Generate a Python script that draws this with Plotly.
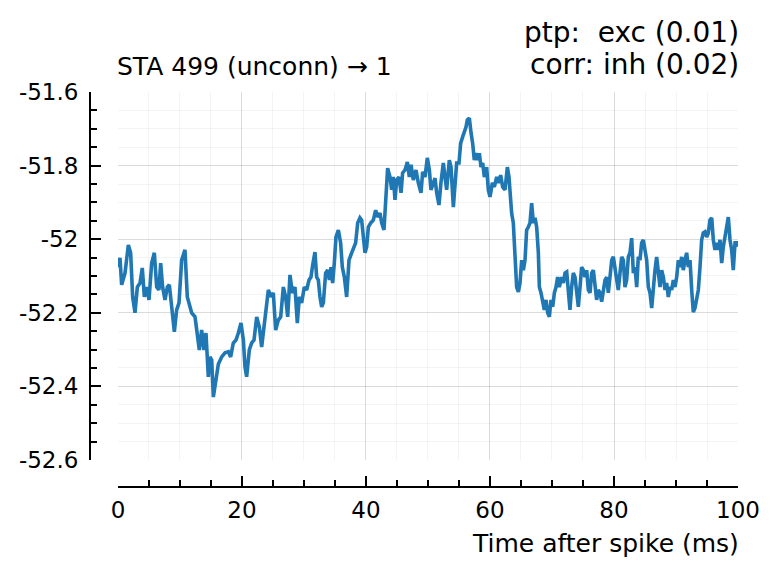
import plotly.graph_objects as go

# ---- data (time after spike in ms, membrane potential in mV) ----
t_seg1 = [0.0, 0.32, 0.59, 1.13, 1.67, 2.04, 2.37, 2.74, 3.12, 3.55,
          3.92, 4.25, 4.62, 5.0, 5.43, 5.86, 6.24, 6.61, 6.88, 7.2,
          7.58, 7.96, 8.28, 8.66, 9.09, 9.46, 9.84, 10.27, 10.8, 11.18,
          11.61, 11.88, 12.42, 12.8, 13.12, 13.49, 13.87, 14.19, 14.57, 14.84,
          15.11, 15.38, 15.8, 16.18]
v_seg1 = [-52.076, -52.051, -52.124, -52.092, -52.016, -52.037, -52.157, -52.2, -52.13, -52.119,
          -52.078, -52.157, -52.13, -52.165, -52.065, -52.037, -52.13, -52.138, -52.065, -52.13,
          -52.165, -52.13, -52.124, -52.184, -52.252, -52.192, -52.173, -52.057, -52.029, -52.157,
          -52.184, -52.2, -52.211, -52.255, -52.301, -52.247, -52.301, -52.255, -52.374, -52.32,
          -52.328, -52.429, -52.383, -52.34]

t_seg2 = [16.72, 17.26, 17.8, 18.17, 18.6, 19.03, 19.41, 19.84, 20.22, 20.48,
          20.75, 21.18, 21.56, 21.94, 22.37, 22.8, 23.17, 23.44, 23.87, 24.25,
          24.68, 25.05, 25.43, 25.86, 26.24, 26.67, 27.04, 27.37, 27.74, 28.12,
          28.55, 28.92, 29.25, 29.62, 30.05, 30.43, 30.81, 31.13, 31.4, 31.77]
v_seg2 = [-52.32, -52.309, -52.306, -52.32, -52.282, -52.274, -52.255, -52.228, -52.274, -52.347,
          -52.374, -52.301, -52.282, -52.274, -52.211, -52.239, -52.293, -52.255, -52.184, -52.138,
          -52.157, -52.146, -52.247, -52.22, -52.211, -52.13, -52.157, -52.211, -52.097, -52.146,
          -52.13, -52.228, -52.157, -52.173, -52.13, -52.138, -52.111, -52.103, -52.07, -52.035]

t_seg3 = [32.04, 32.31, 32.58, 32.85, 33.12, 33.49, 33.82, 34.09, 34.35, 34.62,
          34.89, 35.16, 35.54, 35.91, 36.18, 36.51, 36.88, 37.26, 37.69, 38.12,
          38.33, 38.66, 39.03, 39.3, 39.57, 39.84, 40.11, 40.38, 40.75, 41.18,
          41.56, 41.88, 42.26, 42.53, 42.9, 43.23, 43.49, 43.87, 44.14, 44.41,
          44.68, 44.95, 45.32, 45.65, 45.91, 46.29, 46.67, 46.99, 47.26, 47.63,
          48.06, 48.44]
v_seg3 = [-52.103, -52.111, -52.157, -52.184, -52.173, -52.092, -52.084, -52.111, -52.076, -52.119,
          -52.065, -51.994, -51.975, -52.01, -52.076, -52.103, -52.157, -52.057, -52.037, -52.021,
          -52.01, -51.956, -51.942, -51.948, -51.994, -52.037, -52.021, -51.967, -51.956, -51.948,
          -51.921, -51.94, -51.929, -51.956, -51.975, -51.874, -51.807, -51.831, -51.866, -51.831,
          -51.893, -51.839, -51.831, -51.874, -51.82, -51.812, -51.79, -51.831, -51.798, -51.839,
          -51.812, -51.847]

t_seg4 = [48.87, 49.14, 49.52, 49.89, 50.22, 50.48, 50.86, 51.13, 51.4, 51.77,
          52.1, 52.47, 52.74, 53.01, 53.44, 53.71, 54.09, 54.35, 54.62, 55.0,
          55.27, 55.59, 55.86, 56.13, 56.34, 56.67, 56.94, 57.2, 57.47, 57.74,
          58.01, 58.28, 58.55, 58.82, 59.09, 59.46, 59.73, 60.0, 60.38, 60.7,
          61.08, 61.34, 61.72, 62.05, 62.42, 62.8, 63.06, 63.23, 63.49, 63.76]
v_seg4 = [-51.874, -51.817, -51.831, -51.779, -51.812, -51.866, -51.845, -51.834, -51.874, -51.907,
          -51.845, -51.793, -51.831, -51.866, -51.785, -51.804, -51.913, -51.839, -51.793, -51.793,
          -51.739, -51.722, -51.711, -51.695, -51.676, -51.671, -51.711, -51.739, -51.785, -51.766,
          -51.785, -51.766, -51.804, -51.793, -51.831, -51.804, -51.866, -51.885, -51.847, -51.858,
          -51.831, -51.847, -51.826, -51.858, -51.866, -51.804, -51.831, -51.874, -51.929, -51.956]

t_seg5 = [64.03, 64.3, 64.57, 64.84, 65.11, 65.38, 65.65, 65.91, 66.18, 66.45,
          66.72, 66.99, 67.26, 67.53, 67.8, 67.96, 68.23, 68.49, 68.76, 69.03,
          69.3, 69.57, 69.84, 70.11, 70.38, 70.65, 70.91, 71.18, 71.56, 71.83,
          72.1, 72.37, 72.63, 72.9, 73.17, 73.44, 73.71, 73.98, 74.25, 74.52,
          74.78, 75.05, 75.32, 75.59, 75.86, 76.13, 76.4, 76.67, 76.94, 77.2,
          77.47, 77.74, 78.01, 78.27, 78.55, 78.82, 79.08, 79.35, 79.63, 79.89,
          80.32, 80.69]
v_seg5 = [-52.037, -52.13, -52.143, -52.119, -52.057, -52.084, -52.057, -51.975, -51.967, -51.956,
          -51.902, -51.956, -51.942, -51.967, -52.037, -52.13, -52.146, -52.173, -52.192, -52.165,
          -52.2, -52.211, -52.165, -52.184, -52.146, -52.13, -52.103, -52.13, -52.103, -52.119,
          -52.092, -52.089, -52.13, -52.192, -52.13, -52.092, -52.103, -52.157, -52.184, -52.13,
          -52.076, -52.084, -52.103, -52.084, -52.138, -52.146, -52.092, -52.084, -52.138, -52.165,
          -52.138, -52.146, -52.17, -52.138, -52.111, -52.103, -52.146, -52.103, -52.057, -52.048,
          -52.092, -52.138]

t_seg6 = [80.97, 81.24, 81.51, 81.77, 82.04, 82.31, 82.58, 82.85, 83.12, 83.39,
          83.66, 83.92, 84.19, 84.46, 84.73, 85.0, 85.27, 85.54, 85.81, 86.08,
          86.34, 86.61, 86.88, 87.15, 87.42, 87.69, 87.96, 88.23, 88.49, 88.76,
          89.03, 89.3, 89.57, 89.84, 90.11, 90.38, 90.65, 90.91, 91.18, 91.45,
          91.72, 91.99, 92.26, 92.53, 92.79, 93.06, 93.34, 93.6, 93.87, 94.14,
          94.4, 94.68, 94.95, 95.21, 95.48, 95.76, 96.02, 96.29, 96.56, 96.82,
          97.1, 97.37, 97.63, 97.9, 98.18, 98.44, 98.71, 98.98, 99.24, 99.52,
          99.79, 100.0]
v_seg6 = [-52.092, -52.048, -52.057, -52.13, -52.111, -52.048, -52.037, -51.997, -52.092, -52.076,
          -52.13, -52.048, -52.057, -52.01, -52.002, -52.037, -52.057, -52.13, -52.146, -52.187,
          -52.13, -52.084, -52.048, -52.092, -52.13, -52.084, -52.103, -52.138, -52.119, -52.157,
          -52.13, -52.138, -52.111, -52.13, -52.103, -52.057, -52.076, -52.048, -52.084, -52.057,
          -52.037, -52.076, -52.057, -52.138, -52.198, -52.187, -52.157, -52.138, -52.076, -52.002,
          -51.983, -51.98, -51.994, -51.983, -51.948, -51.942, -52.002, -52.029, -52.01, -52.029,
          -52.002, -52.065, -52.021, -51.994, -51.956, -51.94, -52.002, -52.029, -52.084, -52.01,
          -52.01, -52.02]

t_segments = [t_seg1, t_seg2, t_seg3, t_seg4, t_seg5, t_seg6]
v_segments = [v_seg1, v_seg2, v_seg3, v_seg4, v_seg5, v_seg6]
for a, b in zip(t_segments, v_segments):
    assert len(a) == len(b), (len(a), len(b))
t_ms = [x for s in t_segments for x in s]
vm = [y for s in v_segments for y in s]

x_ticks = [0, 20, 40, 60, 80, 100]
x_ticklabels = ["0", "20", "40", "60", "80", "100"]
y_ticks = [-52.6, -52.4, -52.2, -52.0, -51.8, -51.6]
y_ticklabels = ["-52.6", "-52.4", "-52.2", "-52", "-51.8", "-51.6"]

title_left = "STA 499 (unconn) \u2192 1"
title_right_1 = "ptp:\u00a0 exc (0.01)"
title_right_2 = "corr: inh (0.02)"
x_label = "Time after spike (ms)"

# ---- figure ----
FONT = "DejaVu Sans"
XDOM = [0.0432, 1.0]
YDOM = [0.0684, 1.0]
XR = [0, 100]
YR = [-52.6, -51.6]
GRID = "rgba(0,0,0,0.10)"
MINOR = "rgba(0,0,0,0.045)"

fig = go.Figure()
fig.add_trace(go.Scatter(x=t_ms, y=vm, mode="lines",
                         line=dict(color="#1f77b4", width=3.6),
                         showlegend=False, hoverinfo="skip"))
fig.add_trace(go.Scatter(x=[None], y=[None], xaxis="x2", yaxis="y2",
                         mode="lines", showlegend=False, hoverinfo="skip"))

fig.update_layout(
    width=771, height=568,
    margin=dict(l=82, r=41, t=84, b=89, pad=0),
    paper_bgcolor="white", plot_bgcolor="white",
    font=dict(family=FONT, color="black"),
    xaxis=dict(domain=XDOM, range=XR, tickvals=x_ticks, showticklabels=False,
               ticks="", showgrid=True, gridcolor=GRID, gridwidth=1,
               zeroline=False, showline=False,
               minor=dict(dtick=5, tick0=0, showgrid=True, gridcolor=MINOR, gridwidth=1)),
    yaxis=dict(domain=YDOM, range=YR, tickvals=y_ticks, showticklabels=False,
               ticks="", showgrid=True, gridcolor=GRID, gridwidth=1,
               zeroline=False, showline=False,
               minor=dict(dtick=0.05, tick0=-52.6, showgrid=True, gridcolor=MINOR, gridwidth=1)),
    xaxis2=dict(overlaying="x", anchor="free", position=0, domain=XDOM, range=XR,
                tickvals=x_ticks, ticktext=x_ticklabels, tickfont=dict(size=23),
                ticks="inside", ticklen=10, tickwidth=2, tickcolor="black",
                showline=True, linecolor="black", linewidth=2,
                showgrid=False, zeroline=False, ticklabelstandoff=2,
                minor=dict(dtick=5, tick0=0, ticks="inside", ticklen=6,
                           tickwidth=1.5, tickcolor="black", showgrid=False)),
    yaxis2=dict(overlaying="y", anchor="free", position=0, domain=YDOM, range=YR,
                tickvals=y_ticks, ticktext=y_ticklabels, tickfont=dict(size=23),
                ticks="inside", ticklen=10, tickwidth=2, tickcolor="black",
                showline=True, linecolor="black", linewidth=2,
                showgrid=False, zeroline=False, ticklabelstandoff=6,
                minor=dict(dtick=0.05, tick0=-52.6, ticks="inside", ticklen=6,
                           tickwidth=1.5, tickcolor="black", showgrid=False)),
    annotations=[
        dict(text=title_left, xref="paper", yref="paper", x=XDOM[0], y=1,
             xanchor="left", yanchor="bottom", xshift=-3, yshift=9, showarrow=False,
             font=dict(size=25)),
        dict(text=title_right_1, xref="paper", yref="paper", x=1, y=1,
             xanchor="right", yanchor="bottom", xshift=3, yshift=41,
             showarrow=False, font=dict(size=28)),
        dict(text=title_right_2, xref="paper", yref="paper", x=1, y=1,
             xanchor="right", yanchor="bottom", xshift=3, yshift=9,
             showarrow=False, font=dict(size=28)),
        dict(text=x_label, xref="paper", yref="paper", x=1, y=0,
             xanchor="right", yanchor="top", xshift=3, yshift=-40, showarrow=False,
             font=dict(size=25)),
    ],
)

fig.write_html("out.html")
